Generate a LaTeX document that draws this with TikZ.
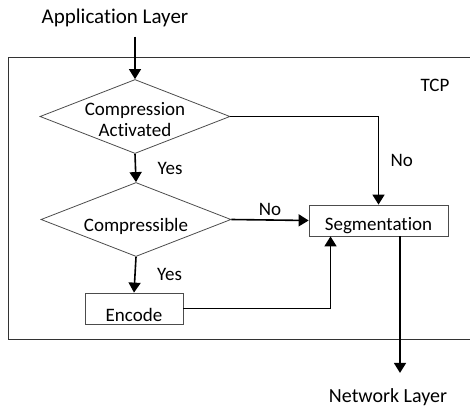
\documentclass[tikz,border=0pt]{standalone}
\usepackage{fontspec}
\setmainfont{Carlito}[Ligatures=NoCommon]
\usetikzlibrary{shapes.geometric,arrows.meta}
\begin{document}
\begin{tikzpicture}[x=1pt,y=-1pt,font=\fontsize{19}{21}\selectfont,
  flow/.style={line width=1.6pt,-{Triangle[length=10pt,width=12pt]}},
  decision/.style={diamond,draw=black!70,line width=0.8pt,minimum width=190pt,minimum height=74pt,inner sep=0pt},
  stepbox/.style={draw=black!70,line width=0.8pt,inner sep=0pt,minimum height=31pt}]
  \useasboundingbox (0,0) rectangle (470,409);
  % TCP frame, open on the right
  \draw[black!80,line width=0.8pt] (470,57) -- (8,57) -- (8,339) -- (470,339);
  \node (tcp) at (435,85) {TCP};
  \node[font=\fontsize{21}{24}\selectfont] (app) at (115,18) {Application Layer};
  \node[font=\fontsize{20}{24}\selectfont] (net) at (388,397) {Network Layer};
  % flow chart
  \node[decision,label={[align=center,yshift=-3pt]center:{Compression\\Activated}}] (act) at (135,116.5) {};
  \node[decision,label={[yshift=-7pt]center:Compressible}] (comp) at (136,219.5) {};
  \node[stepbox,minimum width=98pt,label={[yshift=-6pt]center:Encode}] (enc) at (134,308.5) {};
  \node[stepbox,minimum width=139pt,label={[yshift=-5pt]center:Segmentation}] (seg) at (378.5,220.5) {};
  % connectors
  \draw[flow,shorten <=6pt] (act.north |- app.south) -- (act.north);
  \draw[flow] (act.south) -- node[right=18pt]{Yes} (comp.north);
  \draw[flow] (comp.south) -- node[right=18pt]{Yes} (enc.north);
  \draw[flow] (comp.east) -- node[above]{No} (seg.west);
  \draw[flow] (act.east) -| node[pos=0.75,right=8pt]{No} (seg.north);
  \draw[flow] (enc.east) -| ([xshift=-48pt]seg.south);
  \draw[flow,shorten >=12pt] ([xshift=21.5pt]seg.south) -- ([xshift=21.5pt]seg.south |- net.north);
\end{tikzpicture}
\end{document}
